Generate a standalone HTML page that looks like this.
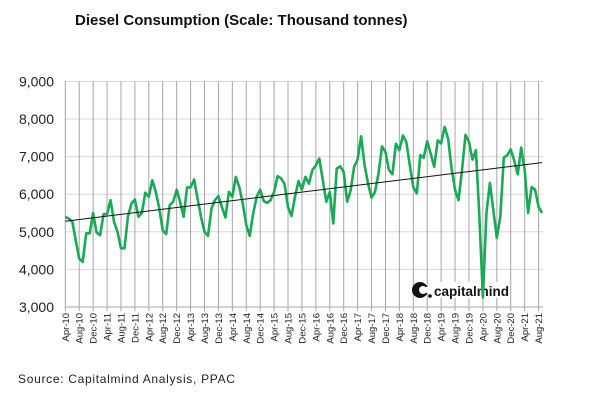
<!DOCTYPE html>
<html><head><meta charset="utf-8"><style>
body{margin:0;background:#fff;}
#wrap{position:relative;width:600px;height:416px;overflow:hidden;font-family:"Liberation Sans",sans-serif;}
</style></head><body>
<div id="wrap">
<svg id="chart" width="600" height="416"></svg>
</div>
<script>
const startYear = 2010, startMonth = 3; // Apr-10
const values = [5400,5350,5270,4780,4290,4200,4960,4960,5500,4980,4910,5470,
5470,5840,5270,5000,4560,4560,5400,5750,5860,5400,5500,6040,
5930,6370,6060,5620,5040,4940,5710,5800,6120,5800,5400,6180,
6180,6390,5890,5400,5000,4890,5620,5840,5950,5660,5380,6060,
5930,6460,6190,5750,5180,4890,5490,5930,6120,5820,5770,5840,
6060,6480,6420,6280,5660,5420,5930,6350,6120,6460,6280,6640,
6770,6950,6370,5800,6060,5220,6680,6740,6590,5800,6110,6730,
6920,7540,6770,6280,5910,6060,6550,7270,7120,6650,6530,7340,
7170,7560,7390,6770,6190,6020,7040,6970,7410,7080,6730,7430,
7350,7790,7480,6680,6110,5840,6640,7580,7390,6920,7170,5400,
3250,5490,6300,5580,4840,5400,6970,7040,7190,6900,6530,7240,
6640,5500,6190,6120,5660,5500];
const yTicks = [3000,4000,5000,6000,7000,8000,9000];
const trendStart = 5280, trendEnd = 6840;
const monthNames = ["Jan","Feb","Mar","Apr","May","Jun","Jul","Aug","Sep","Oct","Nov","Dec"];

const NS="http://www.w3.org/2000/svg";
const svg=document.getElementById('chart');
const x0=65.3, dx=3.48, yTop=81.4, yBot=307, vMin=3000, vMax=9000;
const X=i=>x0+i*dx;
const Y=v=>yBot-(v-vMin)/(vMax-vMin)*(yBot-yTop);
function mk(tag,attrs,parent){const e=document.createElementNS(NS,tag);for(const k in attrs)e.setAttribute(k,attrs[k]);(parent||svg).appendChild(e);return e;}

const title=mk('text',{x:75,y:25,'font-size':15,'font-weight':'bold',fill:'#111'});


title.textContent='Diesel Consumption (Scale: Thousand tonnes)';

yTicks.forEach(v=>{
  if(v>vMin){const g=mk('line',{x1:x0,x2:543,y1:Y(v),y2:Y(v),stroke:'#d9d9d9','stroke-width':1});
  
  }
  const t=mk('text',{x:54,y:Y(v)+5,'text-anchor':'end','font-size':14,fill:'#222'});
  
  
  t.textContent=v.toLocaleString('en-US');
});
for(let i=0;i<values.length;i+=4){
  const gl=mk('line',{x1:X(i),x2:X(i),y1:yTop,y2:yBot+4,stroke:'#a6a6a6','stroke-width':1});
  
  
  const m=(startMonth+i)%12, yr=startYear+Math.floor((startMonth+i)/12);
  const lab=monthNames[m]+'-'+String(yr).slice(2);
  const t=mk('text',{x:0,y:0,'font-size':9.5,fill:'#222','text-anchor':'end',transform:`translate(${X(i)+3.5},${yBot+6}) rotate(-90)`});
  
  
  t.textContent=lab;
}
const ax=mk('line',{x1:x0,x2:543,y1:yBot,y2:yBot,stroke:'#a6a6a6','stroke-width':1});



const lg=mk('g',{});


mk('rect',{x:432,y:282,width:76,height:16,fill:'#fff'},lg);
mk('circle',{cx:420,cy:290,r:8,fill:'#111'},lg);
mk('circle',{cx:423,cy:290,r:4,fill:'#fff'},lg);
mk('rect',{x:423,y:287,width:6,height:6,fill:'#fff'},lg);
mk('circle',{cx:430,cy:296,r:1.8,fill:'#111'},lg);
const lt=mk('text',{x:434,y:296,'font-size':13.5,'font-weight':'bold',fill:'#111'},lg);
lt.textContent='capitalmind';

const pts=values.map((v,i)=>X(i).toFixed(1)+','+Y(v).toFixed(1)).join(' ');
const line=mk('polyline',{points:pts,fill:'none',stroke:'#1aaa55','stroke-width':2.6,'stroke-linejoin':'round'});



const tr=mk('line',{x1:X(0),y1:Y(trendStart),x2:X(values.length-1),y2:Y(trendEnd),stroke:'#111','stroke-width':1});



const src=mk('text',{x:18,y:383,'font-size':12,'letter-spacing':0.7,fill:'#222'});


src.textContent='Source: Capitalmind Analysis, PPAC';
</script>
</body></html>
